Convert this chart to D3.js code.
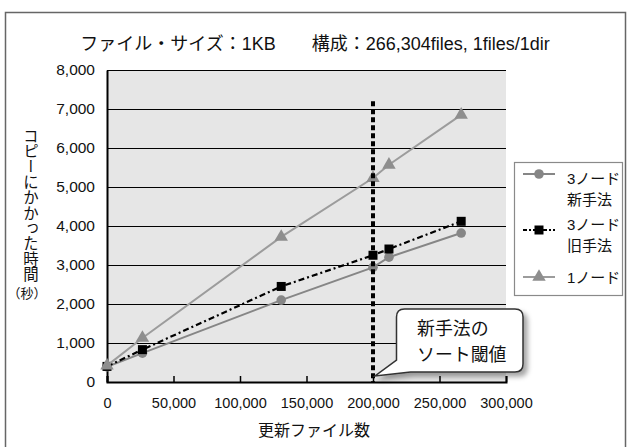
<!DOCTYPE html>
<html>
<head>
<meta charset="utf-8">
<script src="https://cdn.jsdelivr.net/npm/d3@7"></script>
<style>
  html, body { margin: 0; padding: 0; background: #fff; }
  svg { display: block; }
  text { font-family: "Liberation Sans", "Noto Sans CJK JP", sans-serif; fill: #111; }
  .jp { font-family: "Noto Sans CJK JP", sans-serif; }
</style>
</head>
<body>
<script>
// Copy time vs. number of updated files (1KB files)
const titleText = "ファイル・サイズ：1KB　　構成：266,304files, 1files/1dir";
const xTitle = "更新ファイル数";
const yTitle = "コピーにかかった時間";
const yUnit = "（秒）";

const xTicks = [0, 50000, 100000, 150000, 200000, 250000, 300000];
const yTicks = [0, 1000, 2000, 3000, 4000, 5000, 6000, 7000, 8000];

const updatedFiles = [0, 26630, 131000, 200000, 212000, 266304];
const newMethod3 = [390, 740, 2100, 2940, 3200, 3820];
const oldMethod3 = [400, 830, 2450, 3250, 3410, 4120];
const singleNode = [420, 1130, 3720, 5230, 5570, 6850];

const seriesNames = [["3ノード", "新手法"], ["3ノード", "旧手法"], ["1ノード"]];

const thresholdFiles = 200000;
const thresholdTop = 7200;
const calloutLines = ["新手法の", "ソート閾値"];

const W = 630, H = 447;
const plot = { left: 107, right: 506, top: 70, bottom: 382 };

const svg = d3.select("body").append("svg").attr("width", W).attr("height", H);

const defs = svg.append("defs");
const shadow = defs.append("filter").attr("id", "shadow")
  .attr("x", "-20%").attr("y", "-20%").attr("width", "150%").attr("height", "150%");
shadow.append("feDropShadow").attr("dx", 4).attr("dy", 4).attr("stdDeviation", 2.5)
  .attr("flood-color", "#000").attr("flood-opacity", 0.35);

// outer frame
svg.append("rect").attr("x", 5.5).attr("y", 12.5).attr("width", 620).attr("height", 460)
  .attr("fill", "#fff").attr("stroke", "#666").attr("stroke-width", 1.5);

const x = d3.scaleLinear().domain([0, 300000]).range([plot.left, plot.right]);
const y = d3.scaleLinear().domain([0, 8000]).range([plot.bottom, plot.top]);

// plot background
svg.append("rect").attr("x", plot.left).attr("y", plot.top)
  .attr("width", plot.right - plot.left).attr("height", plot.bottom - plot.top)
  .attr("fill", "#e6e6e6");

// horizontal gridlines
svg.append("g").selectAll("line").data(yTicks.filter(d => d > 0)).join("line")
  .attr("x1", plot.left).attr("x2", plot.right)
  .attr("y1", d => Math.round(y(d)) + 0.5).attr("y2", d => Math.round(y(d)) + 0.5)
  .attr("stroke", "#000").attr("stroke-width", 1);

// y axis
const yAxis = d3.axisLeft(y).tickValues(yTicks).tickSize(0).tickPadding(12)
  .tickFormat(d3.format(","));
const gy = svg.append("g").attr("transform", `translate(${plot.left},0)`).call(yAxis);
gy.select(".domain").attr("stroke", "#000").attr("stroke-width", 2);
gy.selectAll("text").style("font-size", "15.5px").attr("fill", "#111");

// x axis
const xAxis = d3.axisBottom(x).tickValues(xTicks).tickSize(-6).tickPadding(16)
  .tickFormat(d3.format(","));
const gx = svg.append("g").attr("transform", `translate(0,${plot.bottom})`).call(xAxis);
gx.select(".domain").attr("stroke", "#000").attr("stroke-width", 2);
gx.selectAll(".tick line").attr("stroke", "#000").attr("stroke-width", 1.5);
gx.selectAll("text").style("font-size", "14.5px").attr("fill", "#111");

// series
const series = [
  { name: seriesNames[0], values: newMethod3, line: "#868686", width: 2, dash: null, marker: "circle", fill: "#868686" },
  { name: seriesNames[1], values: oldMethod3, line: "#000", width: 2.2, dash: "6,3,2,3", marker: "square", fill: "#000" },
  { name: seriesNames[2], values: singleNode, line: "#9c9c9c", width: 2, dash: null, marker: "triangle", fill: "#8e8e8e" }
];

const lineGen = d3.line().x(d => x(d[0])).y(d => y(d[1]));
const symbolFor = {
  circle: d3.symbol(d3.symbolCircle, 72),
  square: d3.symbol(d3.symbolSquare, 81),
  triangle: d3.symbol(d3.symbolTriangle, 78)
};

series.forEach(s => {
  const pts = updatedFiles.map((f, i) => [f, s.values[i]]);
  svg.append("path").datum(pts).attr("d", lineGen)
    .attr("fill", "none").attr("stroke", s.line).attr("stroke-width", s.width)
    .attr("stroke-dasharray", s.dash);
  svg.append("g").selectAll("path").data(pts).join("path")
    .attr("d", symbolFor[s.marker]())
    .attr("transform", d => `translate(${x(d[0])},${y(d[1])})`)
    .attr("fill", s.fill);
});

// sort threshold marker
svg.append("line")
  .attr("x1", x(thresholdFiles)).attr("x2", x(thresholdFiles))
  .attr("y1", y(thresholdTop)).attr("y2", y(0))
  .attr("stroke", "#000").attr("stroke-width", 4).attr("stroke-dasharray", "5,3");

// callout
const cx0 = 396.5, cx1 = 523, cy0 = 309, cy1 = 372, r = 8;
const tipX = x(thresholdFiles) + 2, tipY = y(0) - 6;
const calloutPath = `M${cx0 + r},${cy0} H${cx1 - r} Q${cx1},${cy0} ${cx1},${cy0 + r} V${cy1 - r}
  Q${cx1},${cy1} ${cx1 - r},${cy1} H${cx0 + 14} L${tipX},${tipY} L${cx0},${cy1 - 12} V${cy0 + r}
  Q${cx0},${cy0} ${cx0 + r},${cy0} Z`;
svg.append("path").attr("d", calloutPath).attr("fill", "#fff")
  .attr("stroke", "#333").attr("stroke-width", 1.5).attr("filter", "url(#shadow)");
svg.append("g").selectAll("text").data(calloutLines).join("text")
  .attr("class", "jp").attr("x", 417).attr("y", (d, i) => 327 + i * 26)
  .attr("dominant-baseline", "central").attr("font-size", 17.9).text(d => d);

// legend
const lg = svg.append("g");
lg.append("rect").attr("x", 514.5).attr("y", 162.5).attr("width", 108).attr("height", 133)
  .attr("fill", "#fff").attr("stroke", "#8a8a8a").attr("stroke-width", 1.2);
const legendRows = [
  { lineY: 174, textY: [178, 199] },
  { lineY: 230, textY: [224, 245] },
  { lineY: 277, textY: [277] }
];
series.forEach((s, i) => {
  const row = legendRows[i];
  lg.append("line").attr("x1", 523).attr("x2", 555).attr("y1", row.lineY).attr("y2", row.lineY)
    .attr("stroke", s.line).attr("stroke-width", s.width).attr("stroke-dasharray", s.dash ? "4,2,2,2" : null);
  lg.append("path").attr("d", symbolFor[s.marker]())
    .attr("transform", `translate(539,${row.lineY})`).attr("fill", s.fill);
  s.name.forEach((t, j) => {
    lg.append("text").attr("x", 567).attr("y", row.textY[j])
      .attr("dominant-baseline", "central").style("font-size", "15px").text(t);
  });
});

// titles
svg.append("text").attr("x", 315).attr("y", 44)
  .attr("text-anchor", "middle").attr("dominant-baseline", "central")
  .style("font-size", "18px").text(titleText);

svg.append("text").attr("class", "jp").attr("x", 314).attr("y", 429)
  .attr("text-anchor", "middle").attr("dominant-baseline", "central")
  .attr("font-size", 16).text(xTitle);

svg.append("text").attr("class", "jp").attr("x", 31).attr("y", 128)
  .attr("font-size", 15.4)
  .style("writing-mode", "vertical-rl").style("text-orientation", "upright")
  .text(yTitle);

svg.append("text").attr("class", "jp").attr("x", 27).attr("y", 292)
  .attr("text-anchor", "middle").attr("dominant-baseline", "central")
  .attr("font-size", 13).text(yUnit);
</script>
</body>
</html>
